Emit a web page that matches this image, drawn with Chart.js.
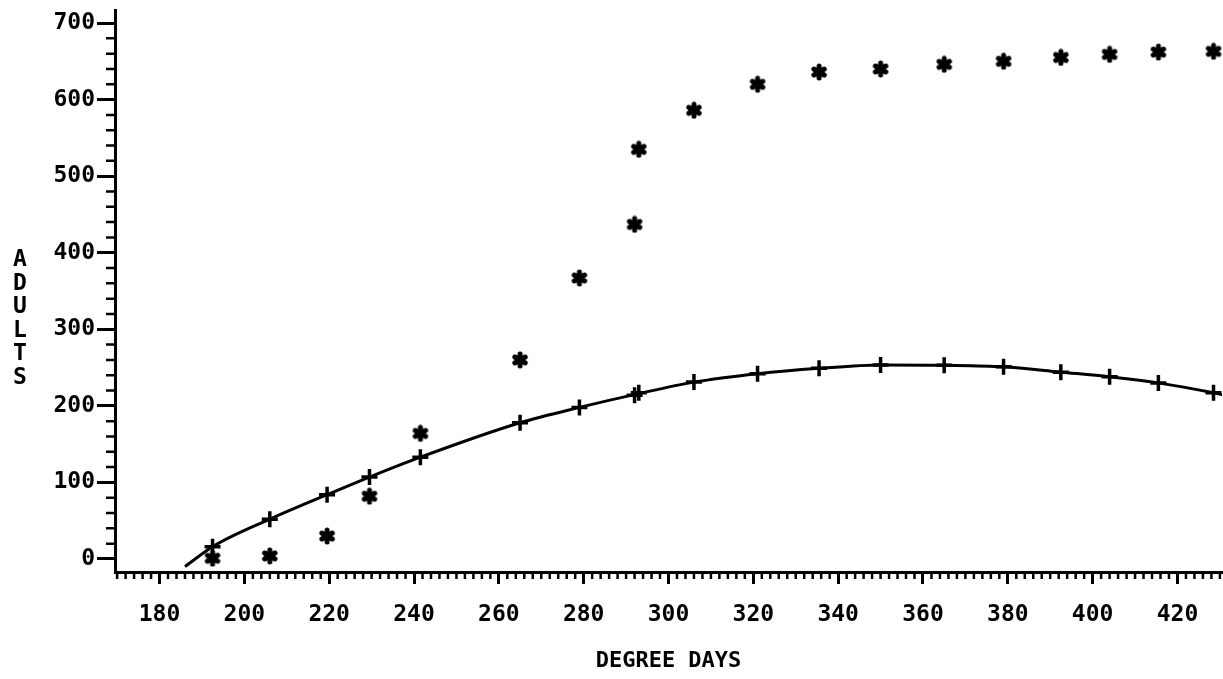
<!DOCTYPE html>
<html lang="en">

<head>
    <meta charset="UTF-8">
    <title>Adults vs degree days</title>
    <script src="https://cdn.jsdelivr.net/npm/chart.js"></script>
    <style>
        html, body { margin: 0; background: #fff; overflow: hidden; }
        .wrap { position: relative; width: 1223px; height: 679px; overflow: hidden; }
        canvas { display: block; }
        .ytitle {
            position: absolute; left: 8px; top: 247px; width: 24px;
            font: bold 23px "DejaVu Sans Mono", monospace; line-height: 23.5px;
            text-align: center; color: #000;
        }
    </style>
</head>

<body>
    <div class="wrap">
        <canvas id="adultsChart"></canvas>
        <!-- stacked letters like the old plotter output -->
        <div class="ytitle">A<br>D<br>U<br>L<br>T<br>S</div>
    </div>

    <script>
        // degree days where samples were taken
        const degreeDays = [192.5, 206, 219.5, 229.5, 241.5, 265, 279, 292, 293, 306, 321, 335.5, 350, 365, 379, 392.5, 404, 415.5, 428.5];
        // observed adults (asterisks)
        const observed = [1, 4, 30, 82, 164, 260, 367, 437, 535, 586, 620, 636, 640, 646, 650, 655, 659, 662, 663];
        // simulated adults (plus marks)
        const simulated = [16, 52, 84, 107, 133, 178, 198, 214, 217, 231, 242, 249, 253.5, 253, 251, 244, 238, 230, 217];
        // fitted curve
        const curveX = [186, 192.5, 206, 219.5, 229.5, 241.5, 265, 279, 293, 306, 321, 335.5, 350, 365, 379, 392.5, 404, 415.5, 428.5, 431];
        const curveY = [-10, 16, 52, 84, 107, 133, 178, 198, 216, 231, 242, 249, 253.5, 253, 251, 244, 238, 230, 217, 214];

        const xTicks = [180, 200, 220, 240, 260, 280, 300, 320, 340, 360, 380, 400, 420];
        const yTicks = [0, 100, 200, 300, 400, 500, 600, 700];

        const tickFont = { family: 'DejaVu Sans Mono', size: 23, weight: 'bold' };

        function pairs(xs, ys) {
            return xs.map((x, i) => ({ x: x, y: ys[i] }));
        }

        // 6 armed asterisk marker, drawn fat like the plotter pen
        function makeAsterisk() {
            const c = document.createElement('canvas');
            c.width = 18; c.height = 18;
            const g = c.getContext('2d');
            g.strokeStyle = '#000';
            g.lineWidth = 5;
            g.lineCap = 'round';
            g.translate(9, 9);
            for (let i = 0; i < 3; i++) {
                g.beginPath();
                g.moveTo(0, -6);
                g.lineTo(0, 6);
                g.stroke();
                g.rotate(Math.PI / 3);
            }
            g.beginPath();
            g.arc(0, 0, 3.5, 0, Math.PI * 2);
            g.fillStyle = '#000';
            g.fill();
            return c;
        }

        // short in-between ticks, placed with the chart's own scales
        const minorTicks = {
            id: 'minorTicks',
            afterDraw(chart) {
                const ctx = chart.ctx;
                const xs = chart.scales.x, ys = chart.scales.y;
                const area = chart.chartArea;
                ctx.save();
                ctx.strokeStyle = '#000';
                ctx.lineWidth = 2.5;
                ctx.beginPath();
                for (let v = 170; v <= 430; v += 2) {
                    if (v % 20 === 0) continue;
                    const px = xs.getPixelForValue(v);
                    ctx.moveTo(px, area.bottom);
                    ctx.lineTo(px, area.bottom + 7);
                }
                for (let v = 20; v <= 700; v += 20) {
                    if (v % 100 === 0) continue;
                    const py = ys.getPixelForValue(v);
                    ctx.moveTo(area.left, py);
                    ctx.lineTo(area.left - 9, py);
                }
                ctx.stroke();
                ctx.restore();
            }
        };

        const ctx = document.getElementById('adultsChart').getContext('2d');
        new Chart(ctx, {
            type: 'scatter',
            data: {
                datasets: [{
                    label: 'Curve',
                    data: pairs(curveX, curveY),
                    showLine: true,
                    borderColor: '#000',
                    borderWidth: 3,
                    pointRadius: 0,
                    tension: 0.4,
                    cubicInterpolationMode: 'monotone'
                }, {
                    label: 'Simulated',
                    data: pairs(degreeDays, simulated),
                    pointStyle: 'cross',
                    pointRadius: 8,
                    borderColor: '#000',
                    borderWidth: 3.5,
                    clip: false
                }, {
                    label: 'Observed',
                    data: pairs(degreeDays, observed),
                    pointStyle: makeAsterisk(),
                    pointRadius: 8,
                    clip: false
                }]
            },
            options: {
                responsive: true,
                maintainAspectRatio: false,
                animation: false,
                // no extra room for the markers, the axes sit at fixed spots
                layout: { autoPadding: false, padding: { top: 10, right: 1, left: 0, bottom: 0 } },
                plugins: {
                    legend: { display: false },
                    tooltip: { enabled: false }
                },
                scales: {
                    x: {
                        type: 'linear',
                        min: 169.5,
                        max: 430.5,
                        afterBuildTicks: s => { s.ticks = xTicks.map(v => ({ value: v })); },
                        afterFit: s => { s.height = 107; s.paddingLeft = 0; s.paddingRight = 0; },
                        border: { color: '#000', width: 3 },
                        grid: { drawOnChartArea: false, tickLength: 12, tickWidth: 3, tickColor: '#000' },
                        ticks: { color: '#000', font: tickFont, padding: 17, maxRotation: 0 },
                        title: {
                            display: true,
                            text: 'DEGREE DAYS',
                            color: '#000',
                            font: { family: 'DejaVu Sans Mono', size: 22, weight: 'bold' },
                            padding: { top: 0, bottom: 5 }
                        }
                    },
                    y: {
                        type: 'linear',
                        min: -17,
                        max: 717,
                        afterBuildTicks: s => { s.ticks = yTicks.map(v => ({ value: v })); },
                        afterFit: s => { s.width = 115; s.paddingTop = 0; s.paddingBottom = 0; },
                        border: { color: '#000', width: 3 },
                        grid: { drawOnChartArea: false, tickLength: 18, tickWidth: 3, tickColor: '#000' },
                        ticks: { color: '#000', font: tickFont, padding: 2 }
                    }
                }
            },
            plugins: [minorTicks]
        });
    </script>
</body>

</html>
